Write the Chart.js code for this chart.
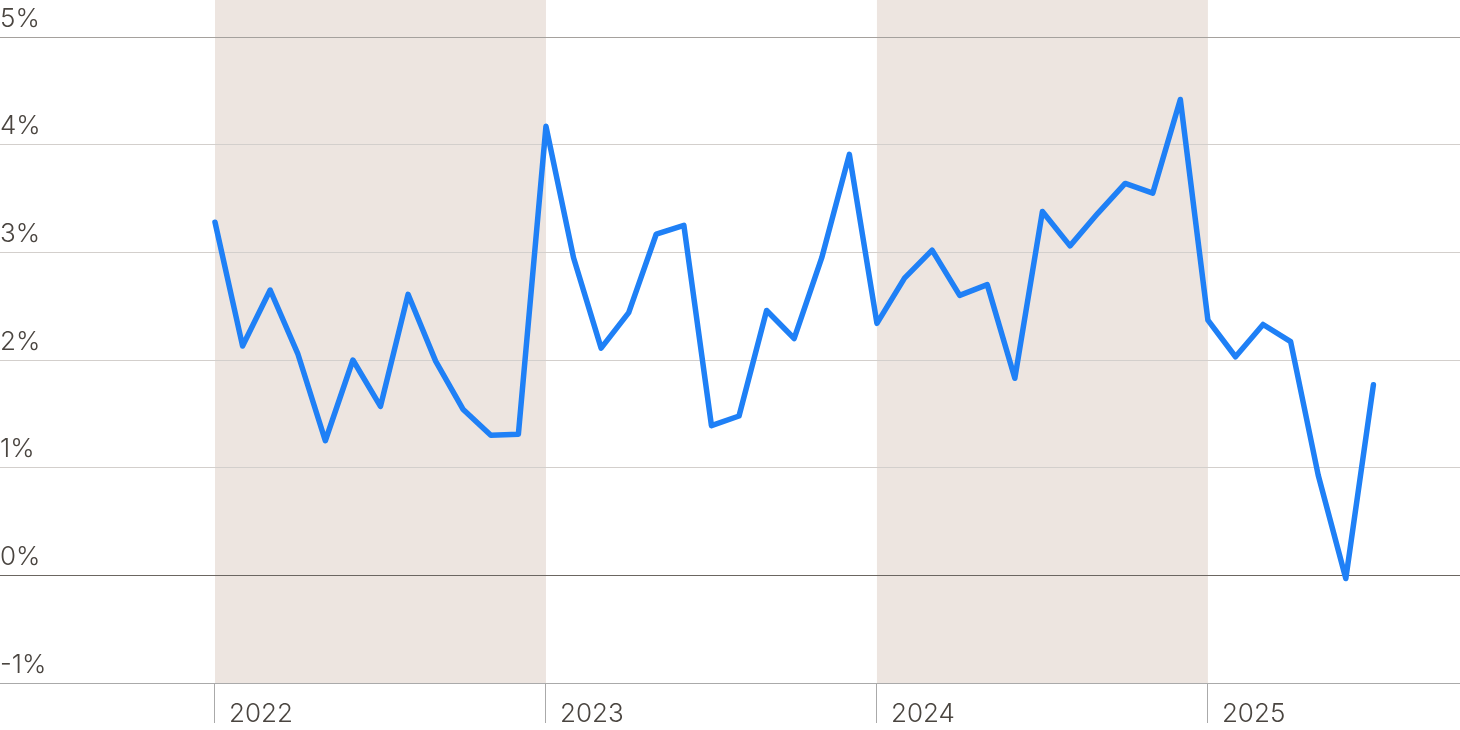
<!DOCTYPE html>
<html>
<head>
<meta charset="utf-8">
<script src="https://cdn.jsdelivr.net/npm/chart.js@4/dist/chart.umd.min.js"></script>
<style>
  body { margin: 0; background: #fff; }
  #wrap { width: 1460px; height: 730px; }
</style>
</head>
<body>
<div id="wrap"><canvas id="chart"></canvas></div>
<script>
// monthly values, Jan 2022 .. Jul 2025
let months = [
  'Jan 2022','Feb 2022','Mar 2022','Apr 2022','May 2022','Jun 2022','Jul 2022','Aug 2022','Sep 2022','Oct 2022','Nov 2022','Dec 2022',
  'Jan 2023','Feb 2023','Mar 2023','Apr 2023','May 2023','Jun 2023','Jul 2023','Aug 2023','Sep 2023','Oct 2023','Nov 2023','Dec 2023',
  'Jan 2024','Feb 2024','Mar 2024','Apr 2024','May 2024','Jun 2024','Jul 2024','Aug 2024','Sep 2024','Oct 2024','Nov 2024','Dec 2024',
  'Jan 2025','Feb 2025','Mar 2025','Apr 2025','May 2025','Jun 2025','Jul 2025'
];
let values = [
  3.28, 2.13, 2.65, 2.06, 1.25, 2.00, 1.57, 2.61, 1.99, 1.54, 1.30, 1.31,
  4.17, 2.95, 2.11, 2.44, 3.17, 3.25, 1.39, 1.48, 2.46, 2.20, 2.95, 3.91,
  2.34, 2.76, 3.02, 2.60, 2.70, 1.83, 3.38, 3.06, 3.36, 3.64, 3.55, 4.42,
  2.37, 2.03, 2.33, 2.17, 0.93, -0.03, 1.77
];
let years = ['2022', '2023', '2024', '2025'];
let yTicks = [-1, 0, 1, 2, 3, 4, 5];
let shadedYears = ['2022', '2024'];

let textColor = '#4a4540';
let font = { family: 'Inter, "Liberation Sans", sans-serif', size: 26, weight: 300 };

let points = values.map(function (v, i) { return { x: i, y: v }; });

let bands = {
  id: 'bands',
  beforeDraw: function (chart) {
    let ctx = chart.ctx;
    let x = chart.scales.x;
    ctx.save();
    ctx.fillStyle = '#ede5e0';
    shadedYears.forEach(function (yr) {
      let start = years.indexOf(yr) * 12;
      let x0 = x.getPixelForValue(start);
      let x1 = x.getPixelForValue(start + 12);
      ctx.fillRect(x0, 0, x1 - x0, chart.chartArea.bottom);
    });
    ctx.restore();
  }
};

new Chart(document.getElementById('chart'), {
  type: 'line',
  data: {
    labels: months,
    datasets: [{
      data: points,
      borderColor: '#1f80f6',
      borderWidth: 5.5,
      pointRadius: 0,
      tension: 0,
      borderJoinStyle: 'round',
      borderCapStyle: 'round'
    }]
  },
  options: {
    responsive: true,
    maintainAspectRatio: false,
    animation: false,
    layout: { padding: { top: 37, left: 0, right: 0, bottom: 0 } },
    plugins: { legend: { display: false }, tooltip: { enabled: false } },
    scales: {
      x: {
        type: 'linear',
        min: -7.795,
        max: 45.14,
        afterFit: function (scale) { scale.height = 47; },
        afterBuildTicks: function (scale) {
          scale.ticks = years.map(function (y, i) { return { value: i * 12 }; });
        },
        border: { display: false },
        grid: { drawOnChartArea: false, drawTicks: true, tickLength: 40, color: '#aaa', lineWidth: 1 },
        ticks: {
          align: 'start',
          labelOffset: 14,
          padding: -24,
          color: textColor,
          font: font,
          maxRotation: 0,
          autoSkip: false,
          callback: function (v) { return years[Math.round(v / 12)]; }
        }
      },
      y: {
        min: -1,
        max: 5,
        afterFit: function (scale) { scale.width = 0; },
        afterBuildTicks: function (scale) {
          scale.ticks = yTicks.map(function (v) { return { value: v }; });
        },
        border: { display: false },
        grid: {
          drawTicks: false,
          color: function (c) {
            let v = c.tick ? c.tick.value : null;
            if (v === 0) return '#6b6661';
            if (v === -1) return '#aaa';
            if (v === 5) return '#a5a19d';
            return '#d3cfcc';
          },
          lineWidth: 1
        },
        ticks: {
          mirror: true,
          padding: 0,
          labelOffset: -18,
          color: textColor,
          font: font,
          callback: function (v) { return v + '%'; }
        }
      }
    }
  },
  plugins: [bands]
});
</script>
</body>
</html>
